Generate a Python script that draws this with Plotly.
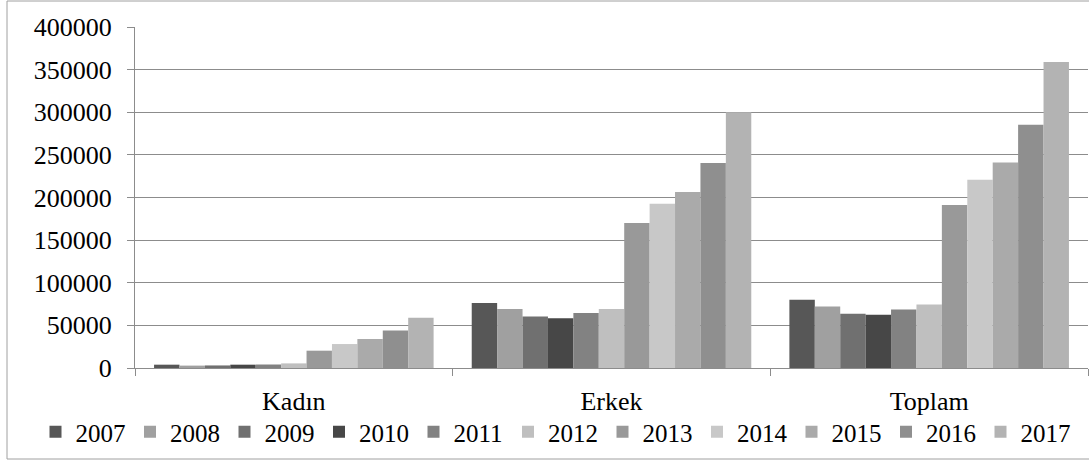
import plotly.graph_objects as go

categories = ["Kadın", "Erkek", "Toplam"]
years = ["2007", "2008", "2009", "2010", "2011", "2012",
         "2013", "2014", "2015", "2016", "2017"]

kadin = [3900, 2800, 3000, 3900, 4100, 5400, 20300, 28100, 34000, 44000, 59000]
erkek = [76100, 69100, 60400, 58500, 64400, 69100, 170100, 192700, 206400, 240400, 300000]
toplam = [80000, 72100, 63600, 62400, 68600, 74500, 191200, 220800, 241200, 285200, 359000]

colors = ["#575757", "#a0a0a0", "#707070", "#474747", "#828282", "#bfbfbf",
          "#999999", "#c8c8c8", "#aaaaaa", "#8f8f8f", "#b3b3b3"]

FONT = "Liberation Serif"
GRID = "#8c8c8c"

fig = go.Figure()
for i, yr in enumerate(years):
    fig.add_trace(go.Bar(
        name=yr,
        x=categories,
        y=[kadin[i], erkek[i], toplam[i]],
        marker=dict(color=colors[i], line=dict(width=0)),
    ))

# plot area spans x 135..1088, y 27..368 in page pixels
L, R, T, B = 135, 1088, 27, 368
W, H = 1089, 461
pw, ph = R - L, B - T

def px_x(p):
    return (p - L) / pw

def px_y(p):
    return (B - p) / ph

fig.add_shape(type="rect", xref="paper", yref="paper",
              x0=px_x(7), x1=px_x(1100), y0=px_y(459), y1=px_y(1),
              line=dict(color="#a0a0a0", width=1), fillcolor="rgba(0,0,0,0)",
              layer="below")

fig.update_layout(
    width=W, height=H,
    margin=dict(l=L, r=W - R, t=T, b=H - B, pad=0, autoexpand=False),
    paper_bgcolor="white", plot_bgcolor="white",
    barmode="group", bargap=0.12, bargroupgap=0,
    font=dict(family=FONT, color="black", size=25),
    showlegend=True,
    legend=dict(
        orientation="h",
        xref="paper", yref="paper",
        x=px_x(35.5), xanchor="left",
        y=px_y(432), yanchor="middle",
        font=dict(family=FONT, size=25, color="black"),
        entrywidth=49.5, entrywidthmode="pixels",
        itemwidth=30, traceorder="normal",
        bgcolor="rgba(0,0,0,0)", borderwidth=0,
    ),
    xaxis=dict(
        showline=True, linecolor=GRID, linewidth=1,
        ticks="outside", tickson="boundaries", ticklen=7, tickcolor=GRID,
        tickfont=dict(family=FONT, size=26, color="black"),
        ticklabelstandoff=10,
        showgrid=False, zeroline=False,
    ),
    yaxis=dict(
        range=[0, 400000], dtick=50000, tickformat="d",
        showline=True, linecolor=GRID, linewidth=1,
        ticks="outside", ticklen=7, tickcolor=GRID,
        tickfont=dict(family=FONT, size=26, color="black"),
        ticklabelstandoff=10,
        showgrid=True, gridcolor=GRID, gridwidth=1,
        zeroline=False,
    ),
)

fig.write_html("out.html")
